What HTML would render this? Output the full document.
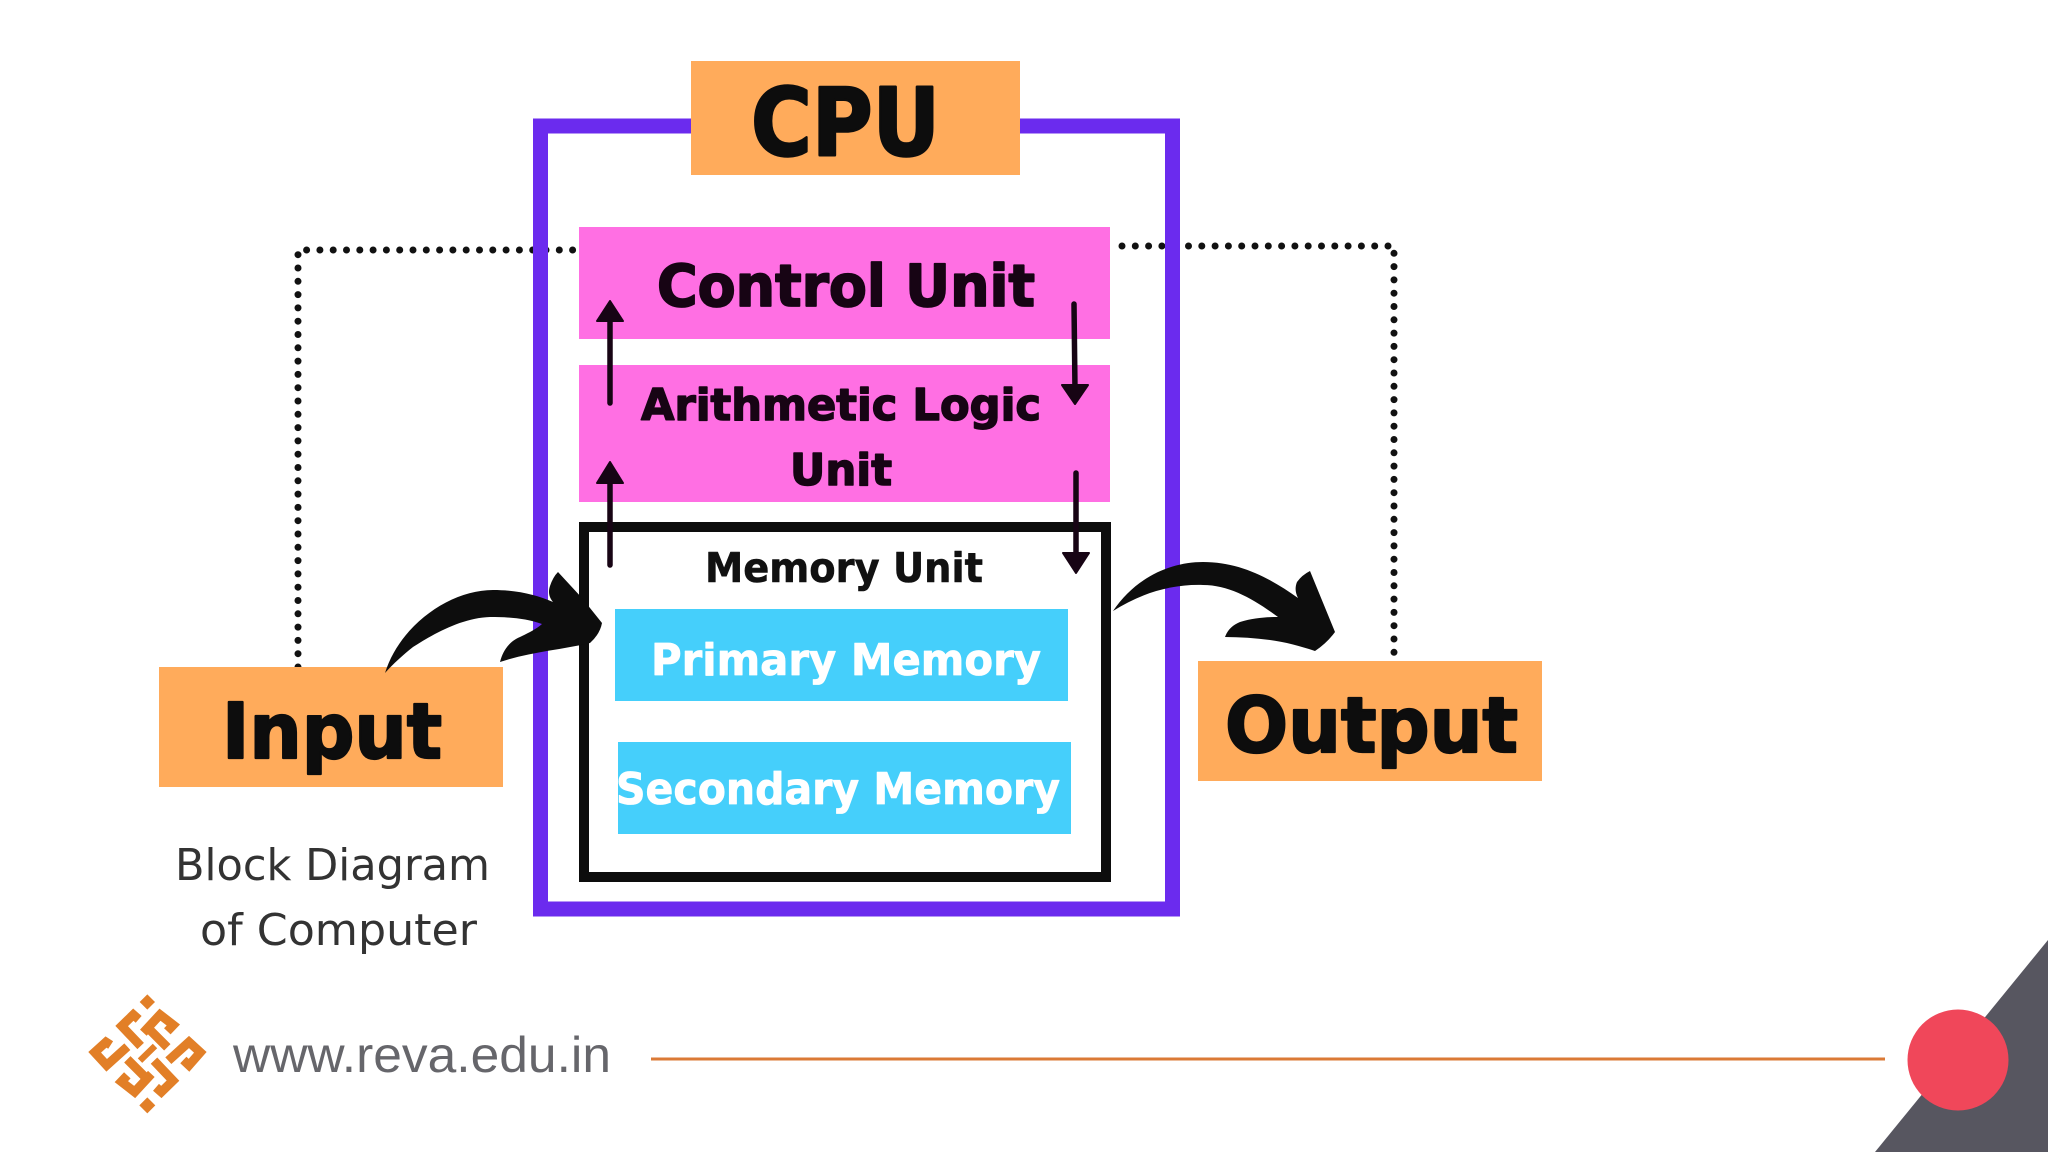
<!DOCTYPE html>
<html lang="en">
<head>
<meta charset="utf-8">
<title>Block Diagram of Computer</title>
<style>
html,body{margin:0;padding:0;background:#fff;width:2048px;height:1152px;overflow:hidden}
svg{display:block}
.b{font-family:"DejaVu Sans","Liberation Sans",sans-serif;font-weight:700;stroke-linejoin:round}
</style>
</head>
<body>
<svg width="2048" height="1152" viewBox="0 0 2048 1152" xmlns="http://www.w3.org/2000/svg">
<rect width="2048" height="1152" fill="#fff"/>

<!-- dotted lines -->
<path d="M298 667V250H579" fill="none" stroke="#111" stroke-width="7" stroke-linecap="round" stroke-dasharray="0 13.3"/>
<path d="M1122 246H1394V661" fill="none" stroke="#111" stroke-width="7" stroke-linecap="round" stroke-dasharray="0 13.3"/>

<!-- CPU frame -->
<rect x="540.5" y="126" width="632" height="783" fill="none" stroke="#6B2BEE" stroke-width="15"/>
<rect x="691" y="61" width="329" height="114" fill="#FFAB5B"/>
<text class="b" x="751" y="155" font-size="94" textLength="189" lengthAdjust="spacingAndGlyphs" fill="#0d0d0d" stroke="#0d0d0d" stroke-width="2.5">CPU</text>

<!-- control / ALU -->
<rect x="579" y="227" width="531" height="112" fill="#FF6FE3"/>
<rect x="579" y="365" width="531" height="137" fill="#FF6FE3"/>
<text class="b" x="657" y="306" font-size="58" textLength="378" lengthAdjust="spacingAndGlyphs" fill="#170414" stroke="#170414" stroke-width="1.8">Control Unit</text>
<text class="b" x="641" y="420" font-size="44" textLength="400" lengthAdjust="spacingAndGlyphs" fill="#170414" stroke="#170414" stroke-width="1.5">Arithmetic Logic</text>
<text class="b" x="790" y="485" font-size="44" textLength="102" lengthAdjust="spacingAndGlyphs" fill="#170414" stroke="#170414" stroke-width="1.5">Unit</text>

<!-- memory -->
<rect x="584" y="527" width="522" height="350" fill="#fff" stroke="#0d0d0d" stroke-width="10"/>
<text class="b" x="705" y="582" font-size="41" textLength="278" lengthAdjust="spacingAndGlyphs" fill="#111" stroke="#111" stroke-width=".6">Memory Unit</text>
<rect x="615" y="609" width="453" height="92" fill="#45CFFB"/>
<rect x="618" y="742" width="453" height="92" fill="#45CFFB"/>
<text class="b" x="651" y="675" font-size="44" textLength="390" lengthAdjust="spacingAndGlyphs" fill="#fff" stroke="#fff" stroke-width=".8">Primary Memory</text>
<text class="b" x="616" y="804" font-size="44" textLength="444" lengthAdjust="spacingAndGlyphs" fill="#fff" stroke="#fff" stroke-width=".8">Secondary Memory</text>

<!-- small arrows -->
<g stroke="#170414" stroke-width="5.5" fill="none" stroke-linecap="round">
<path d="M610 403V316"/>
<path d="M610 565V478"/>
<path d="M1074 304L1075 390"/>
<path d="M1076 473V558"/>
</g>
<g fill="#170414" stroke="#170414" stroke-width="2" stroke-linejoin="round">
<path d="M610 301L623 321H597Z"/>
<path d="M610 462L623 483H597Z"/>
<path d="M1075 404L1062 385H1088Z"/>
<path d="M1076 573L1063 553H1089Z"/>
</g>

<!-- input / output -->
<rect x="159" y="667" width="344" height="120" fill="#FFAB5B"/>
<rect x="1198" y="661" width="344" height="120" fill="#FFAB5B"/>
<text class="b" x="222" y="758" font-size="77" textLength="220" lengthAdjust="spacingAndGlyphs" fill="#0d0d0d" stroke="#0d0d0d" stroke-width="2.2">Input</text>
<text class="b" x="1225" y="752" font-size="77" textLength="293" lengthAdjust="spacingAndGlyphs" fill="#0d0d0d" stroke="#0d0d0d" stroke-width="2.2">Output</text>

<!-- curved arrows -->
<path d="M385 673C400 625 450 590 493 590C517 590 537 595 553 602C549 597 548 592 550 586Q553 577 558 572L582 598L602 623Q600 634 590 643C560 650 530 652 500 662C503 650 510 641 520 637C528 633 535 630 542 624C525 618 508 617 490 617C462 618 435 633 413 647C403 655 393 664 385 673Z" fill="#0d0d0d"/>
<path d="M1113 611C1135 578 1170 562 1203 562C1240 562 1270 578 1298 598C1295 592 1295 587 1297 582Q1302 575 1310 571L1335 632Q1327 643 1315 651C1300 646 1285 642 1270 640C1255 638 1240 637 1225 637C1228 629 1233 625 1240 622C1253 618 1265 617 1278 617C1255 600 1230 585 1203 585C1170 584 1140 594 1113 611Z" fill="#0d0d0d"/>

<!-- caption -->
<text x="175" y="880" font-family="'DejaVu Sans','Liberation Sans',sans-serif" font-size="44" textLength="315" lengthAdjust="spacingAndGlyphs" fill="#333">Block Diagram</text>
<text x="200" y="945" font-family="'DejaVu Sans','Liberation Sans',sans-serif" font-size="44" textLength="277" lengthAdjust="spacingAndGlyphs" fill="#333">of Computer</text>

<!-- footer logo -->
<g transform="translate(80 990) scale(.3333)" fill="none" stroke="#E27F27" stroke-width="27" stroke-linejoin="miter">
<path d="M202 13L225 36L202 59L179 36Z" fill="#E27F27" stroke="none"/>
<path d="M202 322L226 346L202 370L178 346Z" fill="#E27F27" stroke="none"/>
<path d="M180 212L225 168" stroke-width="19"/>
<path d="M176 88L160 74L125 108L182 168"/>
<path d="M190 128L240 74L280 105L262 124"/>
<path d="M208 118L262 172"/>
<path d="M92 165L78 156L44 187L80 226L142 170"/>
<path d="M265 212L327 156L361 187L327 226L310 210"/>
<path d="M214 252L164 306L124 275L142 256"/>
<path d="M196 262L142 208"/>
<path d="M228 292L244 306L279 272L222 212"/>
</g>

<!-- footer text and decorations -->
<text x="233" y="1072" font-family="'Liberation Sans',Arial,sans-serif" font-size="50" textLength="378" lengthAdjust="spacingAndGlyphs" fill="#66666b">www.reva.edu.in</text>
<rect x="651" y="1057.5" width="1234" height="3" fill="#DB7A36"/>
<path d="M2048 940V1152H1875Z" fill="#575660"/>
<circle cx="1958" cy="1060" r="50.5" fill="#F0475A"/>
</svg>
</body>
</html>
